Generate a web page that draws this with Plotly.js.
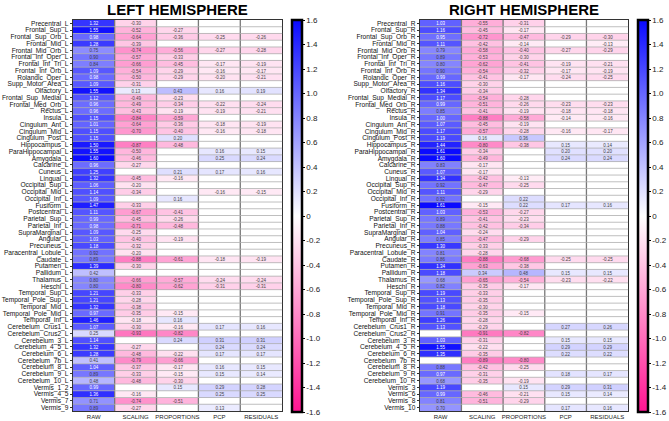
<!DOCTYPE html>
<html>
<head>
<meta charset="utf-8">
<script src="https://cdn.plot.ly/plotly-3.0.1.min.js"></script>
<style>html,body{margin:0;padding:0;background:#fff;}#chart{width:669px;height:421px;}</style>
</head>
<body>
<div id="chart"></div>
<script>
const methods = ['RAW','SCALING','PROPORTIONS','PCP','RESIDUALS'];

const leftRegions = ['Precentral_L','Frontal_Sup_L','Frontal_Sup_Orb_L','Frontal_Mid_L','Frontal_Mid_Orb_L','Frontal_Inf_Oper_L','Frontal_Inf_Tri_L','Frontal_Inf_Orb_L','Rolandic_Oper_L','Supp_Motor_Area_L',
'Olfactory_L','Frontal_Sup_Medial_L','Frontal_Med_Orb_L','Rectus_L','Insula_L','Cingulum_Ant_L','Cingulum_Mid_L','Cingulum_Post_L','Hippocampus_L','ParaHippocampal_L',
'Amygdala_L','Calcarine_L','Cuneus_L','Lingual_L','Occipital_Sup_L','Occipital_Mid_L','Occipital_Inf_L','Fusiform_L','Postcentral_L','Parietal_Sup_L',
'Parietal_Inf_L','SupraMarginal_L','Angular_L','Precuneus_L','Paracentral_Lobule_L','Caudate_L','Putamen_L','Pallidum_L','Thalamus_L','Heschl_L',
'Temporal_Sup_L','Temporal_Pole_Sup_L','Temporal_Mid_L','Temporal_Pole_Mid_L','Temporal_Inf_L','Cerebelum_Crus1_L','Cerebelum_Crus2_L','Cerebelum_3_L','Cerebelum_4_5_L','Cerebelum_6_L',
'Cerebelum_7b_L','Cerebelum_8_L','Cerebelum_9_L','Cerebelum_10_L','Vermis_1_2','Vermis_4_5','Vermis_7','Vermis_9'];
const leftRaw = [1.32,1.55,0.98,1.28,0.75,0.90,0.84,1.09,0.98,1.09, 1.55,1.12,0.96,0.96,1.15,1.01,1.15,1.15,1.50,1.55, 1.60,0.96,1.25,1.32,1.06,1.14,1.09,1.47,1.11,0.99, 0.98,1.09,1.03,1.18,0.92,0.89,1.39,0.42,0.80,0.80, 1.21,1.21,1.32,0.97,1.46,1.07,0.25,1.14,1.32,1.28, 0.41,1.04,0.89,0.48,0.99,1.36,0.71,0.89];
const leftScaling = [-0.30,-0.52,-0.64,-0.39,-0.74,-0.57,-0.66,-0.54,-0.50,-0.31, 0.13,-0.49,-0.49,-0.43,-0.84,-0.64,-0.70,null,-0.87,-0.50, -0.46,-0.27,null,-0.45,-0.20,-0.34,null,-0.33,-0.67,-0.45, -0.71,-0.25,-0.40,-0.32,-0.20,-0.88,-0.30,null,-0.66,-0.80, -0.33,-0.28,-0.38,-0.35,-0.18,-0.30,-0.93,null,-0.27,-0.48, -0.79,-0.37,-0.33,-0.48,null,-0.16,-0.74,-0.27];
const leftProportions = [null,-0.27,-0.36,null,-0.56,-0.33,-0.45,-0.29,-0.29,null, 0.43,-0.23,-0.34,-0.19,-0.59,-0.36,-0.40,0.20,-0.48,null, null,null,0.21,-0.16,null,null,0.16,null,-0.41,-0.26, -0.48,null,-0.19,null,null,-0.61,null,null,-0.57,-0.62, null,null,null,-0.15,0.16,-0.16,-0.82,0.24,null,-0.22, -0.66,-0.17,-0.15,-0.30,0.15,null,-0.51,null];
const leftPcp = [null,null,-0.25,null,-0.27,null,-0.17,-0.16,-0.20,null, 0.16,null,-0.22,-0.19,null,-0.18,-0.16,null,null,0.16, 0.25,null,0.17,null,null,-0.16,null,null,null,null, null,null,null,null,null,-0.18,null,null,-0.24,-0.31, null,null,null,null,null,0.17,null,0.31,0.24,0.17, null,0.16,0.15,null,0.29,0.25,null,0.13];
const leftResiduals = [null,null,-0.26,null,-0.28,null,-0.19,-0.17,-0.21,null, 0.19,null,-0.24,-0.21,null,-0.19,-0.18,null,null,0.15, 0.24,null,0.16,null,null,-0.15,null,null,null,null, null,null,null,null,null,-0.19,null,null,-0.24,-0.31, null,null,null,null,null,0.16,null,0.31,0.24,0.17, null,0.15,0.14,null,0.28,0.25,null,null];

const rightRegions = ['Precentral_R','Frontal_Sup_R','Frontal_Sup_Orb_R','Frontal_Mid_R','Frontal_Mid_Orb_R','Frontal_Inf_Oper_R','Frontal_Inf_Tri_R','Frontal_Inf_Orb_R','Rolandic_Oper_R','Supp_Motor_Area_R',
'Olfactory_R','Frontal_Sup_Medial_R','Frontal_Med_Orb_R','Rectus_R','Insula_R','Cingulum_Ant_R','Cingulum_Mid_R','Cingulum_Post_R','Hippocampus_R','ParaHippocampal_R',
'Amygdala_R','Calcarine_R','Cuneus_R','Lingual_R','Occipital_Sup_R','Occipital_Mid_R','Occipital_Inf_R','Fusiform_R','Postcentral_R','Parietal_Sup_R',
'Parietal_Inf_R','SupraMarginal_R','Angular_R','Precuneus_R','Paracentral_Lobule_R','Caudate_R','Putamen_R','Pallidum_R','Thalamus_R','Heschl_R',
'Temporal_Sup_R','Temporal_Pole_Sup_R','Temporal_Mid_R','Temporal_Pole_Mid_R','Temporal_Inf_R','Cerebelum_Crus1_R','Cerebelum_Crus2_R','Cerebelum_3_R','Cerebelum_4_5_R','Cerebelum_6_R',
'Cerebelum_7b_R','Cerebelum_8_R','Cerebelum_9_R','Cerebelum_10_R','Vermis_3','Vermis_6','Vermis_8','Vermis_10'];
const rightRaw = [1.03,1.16,0.95,1.11,0.79,0.89,0.80,0.90,0.99,1.16, 1.34,1.17,0.99,0.85,1.00,1.07,1.17,1.19,1.44,1.61, 1.60,0.83,1.07,1.34,0.92,1.11,0.92,1.61,1.03,0.89, 0.88,1.04,0.85,1.30,0.81,0.86,1.34,1.18,0.68,0.82, 1.19,1.13,1.18,0.91,1.26,1.13,null,1.03,1.55,1.35, null,0.88,0.97,0.68,1.19,0.99,0.81,0.70];
const rightScaling = [-0.55,-0.45,-0.72,-0.42,-0.58,-0.53,-0.62,-0.54,-0.41,-0.30, -0.34,-0.54,-0.51,-0.41,-0.88,-0.45,-0.57,0.16,-0.80,-0.34, -0.49,-0.17,-0.17,-0.42,-0.47,-0.29,null,-0.15,-0.53,-0.41, -0.42,-0.24,-0.47,-0.33,-0.28,-0.88,-0.63,0.34,-0.65,-0.35, -0.33,-0.35,-0.30,-0.35,-0.28,-0.29,-0.91,-0.31,-0.22,-0.35, -0.89,-0.42,-0.31,-0.35,null,-0.46,-0.51,null];
const rightProportions = [-0.31,-0.17,-0.47,-0.14,-0.40,-0.30,-0.41,-0.32,-0.17,null, null,-0.28,-0.26,-0.19,-0.58,-0.19,-0.28,0.36,-0.38,null, null,null,null,-0.13,-0.25,null,0.22,0.22,-0.27,-0.23, -0.34,null,-0.29,null,null,-0.68,-0.38,0.48,-0.54,-0.17, null,null,null,-0.15,null,null,-0.82,null,null,null, -0.80,-0.25,null,-0.19,0.15,-0.21,-0.29,null];
const rightPcp = [null,null,-0.29,null,-0.27,null,-0.19,-0.17,-0.24,null, null,null,-0.23,-0.18,-0.14,null,-0.16,null,0.15,0.20, 0.24,null,null,null,null,null,null,0.17,null,null, null,null,null,null,null,-0.25,null,0.15,-0.23,null, null,null,null,null,null,0.27,null,0.15,0.29,0.22, null,null,0.18,null,0.29,0.15,null,0.17];
const rightResiduals = [null,null,-0.30,-0.13,-0.29,null,-0.21,-0.19,-0.25,null, null,null,-0.23,-0.18,-0.16,null,-0.17,null,0.14,0.20, 0.24,null,null,null,null,null,null,0.16,null,null, null,null,null,null,null,-0.25,null,0.15,-0.22,null, null,null,null,null,null,0.26,null,0.15,0.29,0.22, null,null,0.17,null,0.31,0.14,null,0.16];

const cbTickVals = [1.6,1.4,1.2,1.0,0.8,0.6,0.4,0.2,0,-0.2,-0.4,-0.6,-0.8,-1.0,-1.2,-1.4,-1.6];
const cbTickText = ['1.6','1.4','1.2','1.0','0.8','0.6','0.4','0.2','0','-0.2','-0.4','-0.6','-0.8','-1.0','-1.2','-1.4','-1.6'];

const FONT = 'Liberation Sans, Arial, sans-serif';
const W = 669, H = 421;
const colorscale = [[0,'rgb(255,20,145)'],[0.5,'rgb(255,255,255)'],[1,'rgb(10,10,255)']];

function buildZ(cols){
  const n = cols[0].length, z = [], t = [];
  for (let i=0;i<n;i++){
    const row = cols.map(c => c[i]);
    z.push(row);
    t.push(row.map(v => v==null ? '' : v.toFixed(2)));
  }
  return {z, t};
}
const L = buildZ([leftRaw,leftScaling,leftProportions,leftPcp,leftResiduals]);
const R = buildZ([rightRaw,rightScaling,rightProportions,rightPcp,rightResiduals]);

const yTop = 20, yBot = 411;
function cb(xpx){
  return {x:xpx/W, xanchor:'left', xpad:0, ypad:0, y:1-((yTop+yBot+1)/2)/H, yanchor:'middle',
    len:(yBot-yTop+1)/H, lenmode:'fraction', thickness:10, outlinewidth:2.5, outlinecolor:'#000',
    tickvals:cbTickVals, ticktext:cbTickText, ticks:'outside', ticklen:2, tickcolor:'#000',
    tickfont:{family:FONT,size:8,color:'#222'}};
}

const traces = [
  {type:'heatmap', x:methods, y:leftRegions, z:L.z, text:L.t, texttemplate:'%{text}',
   textfont:{family:FONT,size:4.5}, zmin:-1.6, zmax:1.6, colorscale:colorscale,
   xaxis:'x', yaxis:'y', colorbar:cb(293), hoverinfo:'x+y+z'},
  {type:'heatmap', x:methods, y:rightRegions, z:R.z, text:R.t, texttemplate:'%{text}',
   textfont:{family:FONT,size:4.5}, zmin:-1.6, zmax:1.6, colorscale:colorscale,
   xaxis:'x2', yaxis:'y2', colorbar:cb(640), hoverinfo:'x+y+z'}
];

const yDom = [(H-yBot)/H, (H-yTop)/H];
function xax(d){
  return {domain:d, showgrid:false, zeroline:false, showline:true, mirror:true, linecolor:'#333', linewidth:1,
    ticks:'', tickmode:'array', tickvals:methods, tickfont:{family:FONT,size:6,color:'#222'}, automargin:false, fixedrange:true};
}
function yax(anchor, cats){
  return {domain:yDom, anchor:anchor, autorange:'reversed', showgrid:false, zeroline:false, showline:true, mirror:true,
    linecolor:'#333', linewidth:1, ticks:'outside', ticklen:2, tickcolor:'#333',
    tickmode:'array', tickvals:cats,
    tickfont:{family:FONT,size:6.6,color:'#111'}, automargin:false, fixedrange:true};
}

const shapes = [];
function grid(xr, yr, nRows){
  for (let i=0;i<methods.length-1;i++){
    shapes.push({type:'line', xref:xr, yref:yr+' domain', x0:i+0.5, x1:i+0.5, y0:0, y1:1,
      line:{color:'rgb(120,120,120)', width:1.3}});
  }
  for (let j=0;j<nRows-1;j++){
    shapes.push({type:'line', xref:xr+' domain', yref:yr, x0:0, x1:1, y0:j+0.5, y1:j+0.5,
      line:{color:'rgb(175,175,175)', width:0.8}});
  }
}
grid('x','y',leftRegions.length);
grid('x2','y2',rightRegions.length);

const layout = {
  width:W, height:H, margin:{l:0,r:0,t:0,b:0}, paper_bgcolor:'#fff', plot_bgcolor:'#fff',
  showlegend:false, font:{family:FONT},
  xaxis: Object.assign(xax([73/W, 283/W]), {anchor:'y'}),
  yaxis: yax('x', leftRegions),
  xaxis2: Object.assign(xax([421/W, 630/W]), {anchor:'y2'}),
  yaxis2: yax('x2', rightRegions),
  shapes: shapes,
  annotations: [
    {text:'<b>LEFT HEMISPHERE</b>', xref:'x domain', yref:'paper', x:0.5, y:1-9.5/H, xanchor:'center', yanchor:'middle',
     showarrow:false, font:{family:FONT,size:15,color:'#000'}},
    {text:'<b>RIGHT HEMISPHERE</b>', xref:'x2 domain', yref:'paper', x:0.5, y:1-9.5/H, xanchor:'center', yanchor:'middle',
     showarrow:false, font:{family:FONT,size:15,color:'#000'}}
  ]
};

Plotly.newPlot('chart', traces, layout, {staticPlot:true, displayModeBar:false});
</script>
</body>
</html>
